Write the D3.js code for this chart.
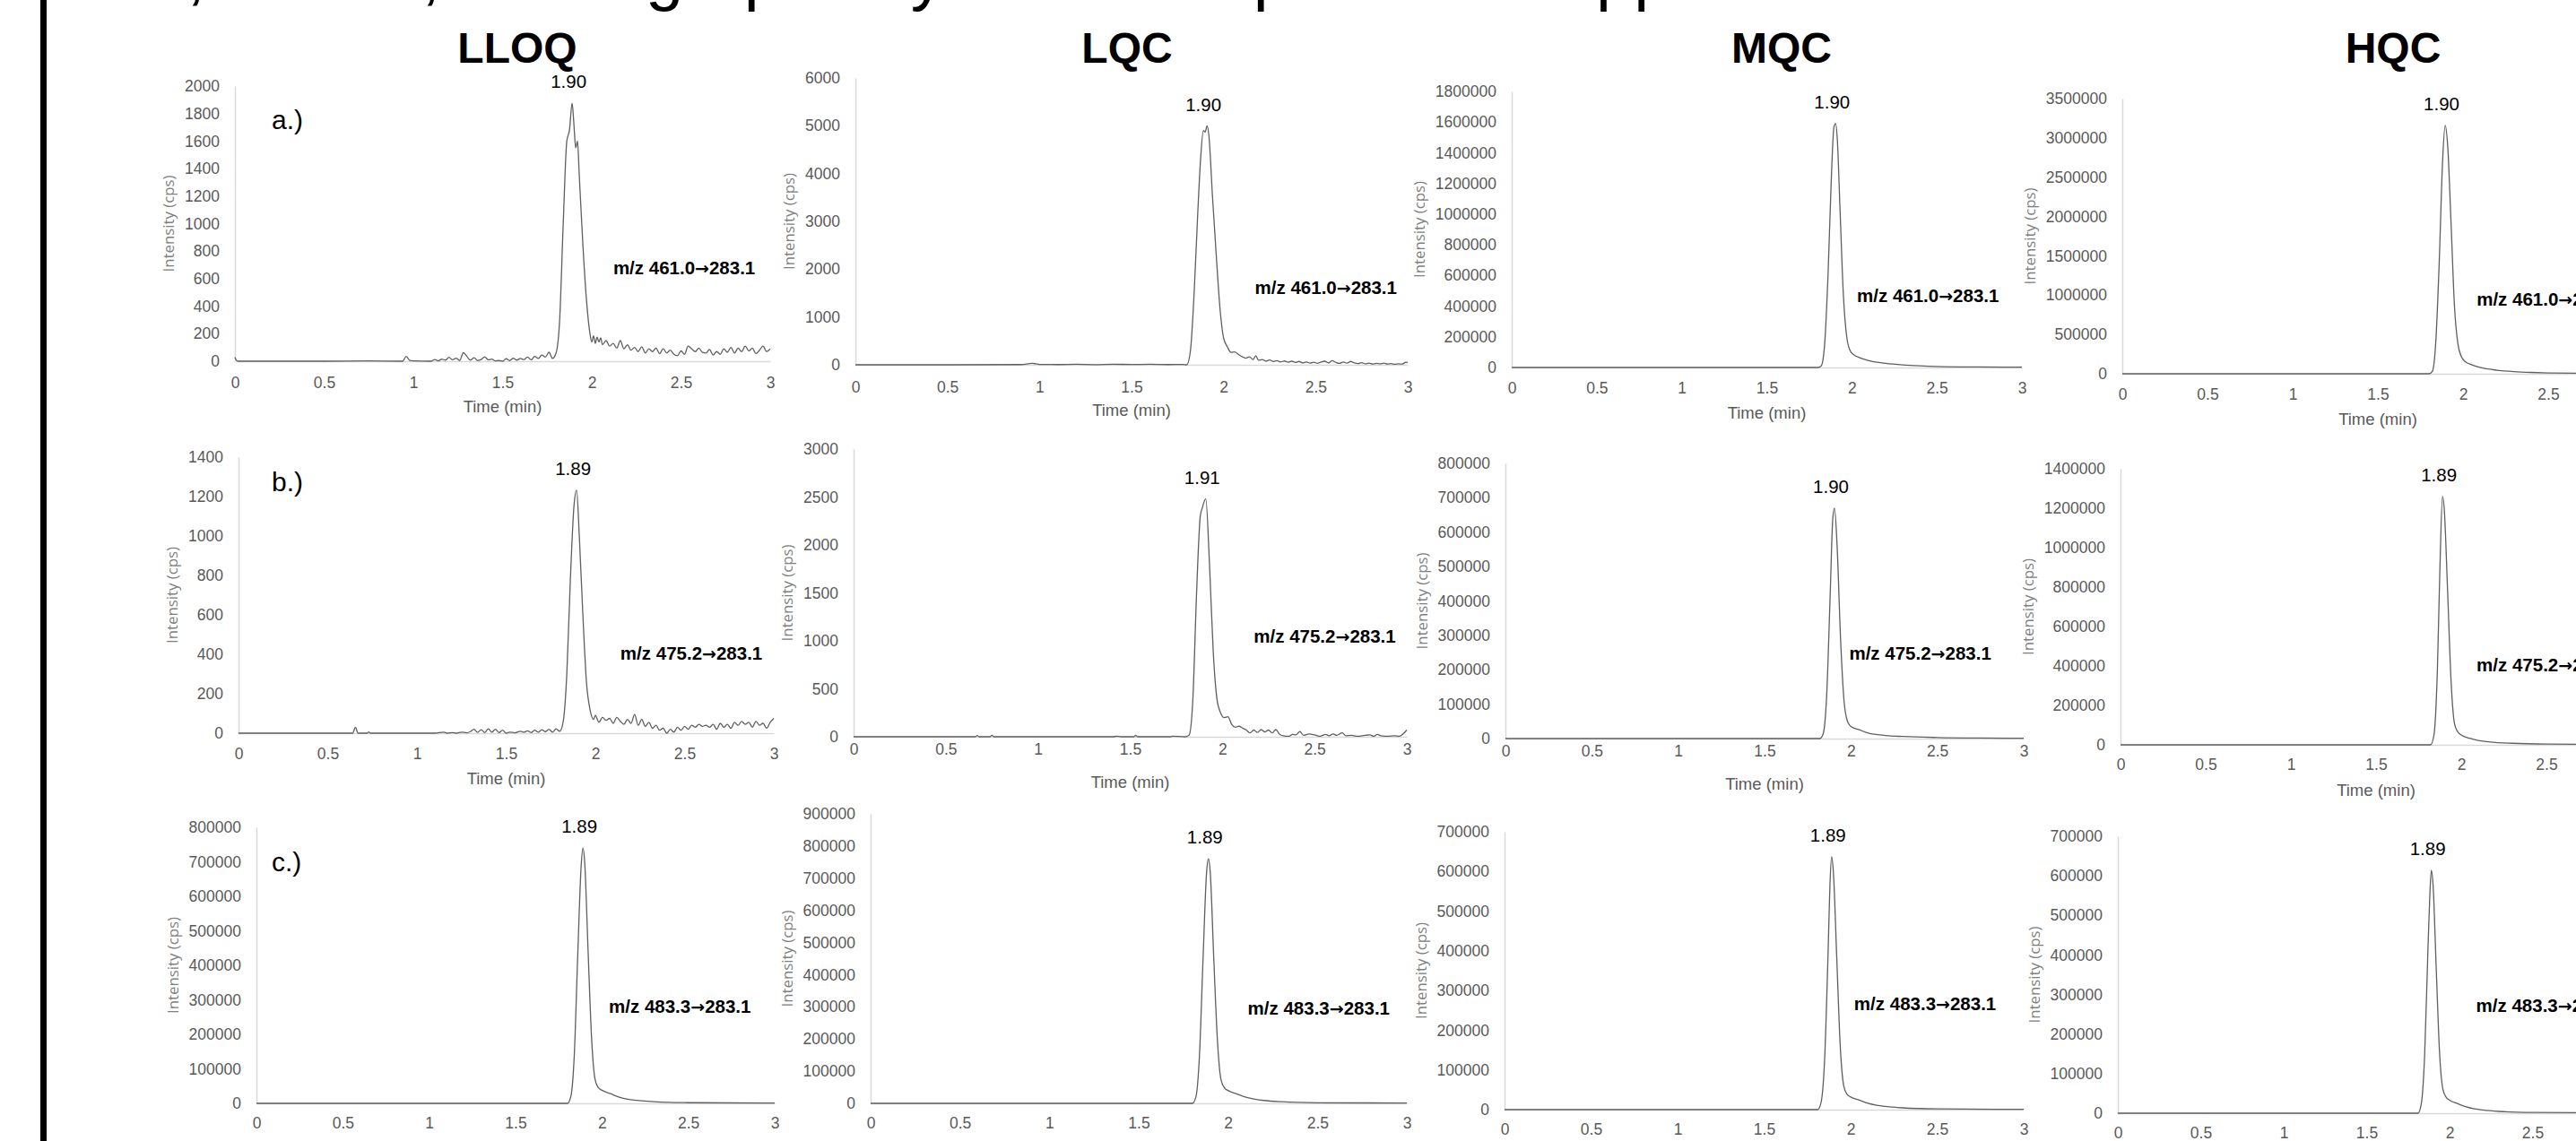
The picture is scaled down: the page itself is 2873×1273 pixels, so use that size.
<!doctype html>
<html>
<head>
<meta charset="utf-8">
<script src="https://cdnjs.cloudflare.com/ajax/libs/d3/7.8.5/d3.min.js"></script>
<style>
  body { margin: 0; background: #fff; }
  svg { display: block; }
</style>
</head>
<body>
<svg width="2873" height="1273"></svg>
<script>
// ---- data ----
var columns = ["LLOQ", "LQC", "MQC", "HQC"];
var rowTags = ["a.)", "b.)", "c.)"];
var precursors = ["m/z 461.0", "m/z 475.2", "m/z 483.3"];
var product = "283.1";
var peakLabels = [["1.90", "1.90", "1.90", "1.90"], ["1.89", "1.91", "1.90", "1.89"], ["1.89", "1.89", "1.89", "1.89"]];
var yMax = [[2000, 6000, 1800000, 3500000], [1400, 3000, 800000, 1400000], [800000, 900000, 700000, 700000]];
var yStep = [[200, 1000, 200000, 500000], [200, 500, 100000, 200000], [100000, 100000, 100000, 100000]];
var timeTicks = [0, 0.5, 1, 1.5, 2, 2.5, 3];

// chromatograms: [time (min), intensity (cps)]
var a1 = [[0,30],[0.01,5],[0.02,0],[0.5,0],[0.75,2],[0.94,0],[0.96,35],[0.98,5],[1.0,2],[1.1,0],[1.12,12],[1.14,3],[1.16,15],[1.18,8],[1.2,28],[1.22,10],[1.24,22],[1.26,5],[1.28,62],[1.3,35],[1.32,8],[1.34,25],[1.36,5],[1.38,12],[1.4,32],[1.42,10],[1.44,15],[1.46,2],[1.48,5],[1.5,0],[1.52,18],[1.54,5],[1.56,22],[1.58,8],[1.6,20],[1.62,12],[1.64,30],[1.66,10],[1.68,35],[1.7,20],[1.72,45],[1.74,30],[1.76,65],[1.78,20],[1.8,60],[1.82,300],[1.84,1000],[1.86,1600],[1.875,1680],[1.89,1876],[1.9,1720],[1.91,1550],[1.92,1600],[1.93,1350],[1.95,850],[1.97,450],[1.99,200],[2.0,140],[2.01,185],[2.02,130],[2.03,175],[2.04,140],[2.05,170],[2.06,120],[2.08,150],[2.1,110],[2.12,130],[2.14,95],[2.16,150],[2.18,90],[2.2,120],[2.22,80],[2.24,100],[2.26,70],[2.28,105],[2.3,60],[2.32,90],[2.34,70],[2.36,95],[2.38,55],[2.4,90],[2.42,60],[2.44,80],[2.46,50],[2.48,40],[2.5,75],[2.52,50],[2.54,110],[2.56,90],[2.58,70],[2.6,95],[2.62,65],[2.64,60],[2.66,85],[2.68,45],[2.7,70],[2.72,50],[2.74,90],[2.76,65],[2.78,100],[2.8,60],[2.82,95],[2.84,70],[2.86,110],[2.88,75],[2.9,95],[2.92,55],[2.94,80],[2.96,110],[2.98,70],[3.0,90]];
var a2 = [[0,0],[0.5,0],[0.9,5],[0.96,30],[0.98,22],[1.0,8],[1.1,5],[1.2,10],[1.3,4],[1.4,12],[1.5,6],[1.6,10],[1.7,5],[1.78,8],[1.8,0],[1.82,300],[1.84,1500],[1.86,3200],[1.875,4300],[1.89,4900],[1.9,4870],[1.91,5000],[1.92,4800],[1.94,3500],[1.96,2300],[1.98,1200],[2.0,560],[2.02,380],[2.04,260],[2.06,270],[2.08,220],[2.1,170],[2.12,140],[2.14,165],[2.16,110],[2.175,190],[2.19,95],[2.21,110],[2.23,75],[2.25,100],[2.27,70],[2.29,85],[2.31,60],[2.33,80],[2.35,55],[2.37,75],[2.39,50],[2.41,70],[2.43,40],[2.45,60],[2.47,35],[2.49,55],[2.51,30],[2.53,60],[2.55,75],[2.57,40],[2.59,85],[2.61,50],[2.63,30],[2.65,60],[2.67,35],[2.69,70],[2.71,40],[2.73,25],[2.75,45],[2.77,20],[2.79,35],[2.81,15],[2.83,30],[2.85,20],[2.87,35],[2.89,15],[2.91,25],[2.93,10],[2.95,20],[2.97,15],[2.99,55],[3.0,50]];
var a3 = [[0,0],[1.0,0],[1.5,0],[1.8,0],[1.82,10000],[1.84,150000],[1.86,600000],[1.88,1250000],[1.895,1570000],[1.905,1590000],[1.915,1480000],[1.93,1050000],[1.95,480000],[1.97,200000],[1.99,110000],[2.01,85000],[2.05,62000],[2.1,45000],[2.2,27000],[2.3,17000],[2.4,11000],[2.5,7000],[2.75,3500],[3.0,2000]];
var a4 = [[0,0],[1.8,0],[1.82,30000],[1.84,400000],[1.86,1400000],[1.88,2700000],[1.895,3160000],[1.91,2900000],[1.93,1900000],[1.95,850000],[1.97,380000],[1.99,220000],[2.01,160000],[2.05,115000],[2.1,80000],[2.2,45000],[2.3,27000],[2.4,17000],[2.5,11000],[2.75,6000],[3.0,4000]];
var b1 = [[0,0],[0.64,0],[0.655,30],[0.67,0],[0.72,0],[0.73,6],[0.74,0],[1.1,0],[1.15,5],[1.17,0],[1.2,3],[1.22,0],[1.25,5],[1.28,2],[1.3,8],[1.32,20],[1.34,4],[1.36,18],[1.38,3],[1.4,22],[1.42,5],[1.44,20],[1.46,3],[1.48,15],[1.5,0],[1.52,5],[1.55,2],[1.58,10],[1.6,5],[1.62,12],[1.64,3],[1.66,15],[1.68,5],[1.7,18],[1.72,8],[1.74,20],[1.76,5],[1.78,22],[1.8,10],[1.82,60],[1.84,300],[1.86,780],[1.88,1150],[1.895,1232],[1.91,1000],[1.93,600],[1.95,260],[1.97,120],[1.99,70],[2.0,90],[2.02,55],[2.04,80],[2.06,65],[2.08,75],[2.1,50],[2.12,80],[2.14,60],[2.16,45],[2.18,70],[2.2,50],[2.22,95],[2.24,40],[2.26,70],[2.28,35],[2.3,55],[2.32,25],[2.34,40],[2.36,15],[2.38,25],[2.4,0],[2.42,20],[2.44,5],[2.46,30],[2.48,15],[2.5,35],[2.52,20],[2.54,40],[2.56,30],[2.58,45],[2.6,35],[2.62,40],[2.64,30],[2.66,45],[2.68,20],[2.7,50],[2.72,30],[2.74,45],[2.76,25],[2.78,55],[2.8,40],[2.82,60],[2.84,45],[2.86,55],[2.88,30],[2.9,60],[2.92,40],[2.94,50],[2.96,25],[2.98,55],[3.0,75]];
var b2 = [[0,0],[0.6,0],[0.66,0],[0.67,12],[0.68,0],[0.74,0],[0.75,15],[0.76,0],[1.4,0],[1.43,5],[1.45,0],[1.52,0],[1.53,15],[1.54,0],[1.72,0],[1.73,6],[1.8,0],[1.82,20],[1.84,400],[1.86,1500],[1.88,2300],[1.89,2380],[1.91,2480],[1.93,1800],[1.95,900],[1.97,400],[1.99,250],[2.01,200],[2.03,210],[2.05,130],[2.07,100],[2.09,110],[2.11,90],[2.13,70],[2.15,40],[2.17,70],[2.19,45],[2.21,75],[2.23,50],[2.25,70],[2.27,40],[2.29,75],[2.31,25],[2.33,10],[2.36,5],[2.38,25],[2.4,20],[2.42,55],[2.44,15],[2.47,30],[2.5,20],[2.53,5],[2.56,25],[2.58,10],[2.6,30],[2.62,15],[2.65,40],[2.67,10],[2.7,15],[2.73,5],[2.76,10],[2.8,20],[2.82,5],[2.84,25],[2.86,10],[2.9,5],[2.93,10],[2.96,5],[2.98,30],[3.0,70]];
var b3 = [[0,0],[1.82,0],[1.84,15000],[1.86,130000],[1.88,420000],[1.895,640000],[1.905,670000],[1.92,560000],[1.94,290000],[1.96,110000],[1.98,50000],[2.0,35000],[2.05,25000],[2.1,16000],[2.2,9000],[2.3,6000],[2.5,3000],[2.75,1500],[3.0,1000]];
var b4 = [[0,0],[1.82,0],[1.84,50000],[1.86,380000],[1.875,900000],[1.89,1260000],[1.9,1200000],[1.92,780000],[1.94,330000],[1.96,110000],[1.98,65000],[2.0,50000],[2.05,33000],[2.1,22000],[2.2,12000],[2.3,8000],[2.5,4000],[2.75,2500],[3.0,2000]];
var c1 = [[0,0],[1.8,0],[1.82,20000],[1.84,140000],[1.86,430000],[1.88,690000],[1.89,740000],[1.9,700000],[1.92,440000],[1.94,190000],[1.96,70000],[1.98,45000],[2.0,38000],[2.05,28000],[2.1,18000],[2.15,12000],[2.2,9000],[2.3,5000],[2.5,2000],[3.0,1000]];
var c2 = [[0,0],[1.8,0],[1.82,20000],[1.84,150000],[1.86,450000],[1.88,720000],[1.89,761000],[1.9,720000],[1.92,450000],[1.94,200000],[1.96,75000],[1.98,48000],[2.0,40000],[2.05,29000],[2.1,19000],[2.15,13000],[2.2,9000],[2.3,5000],[2.5,2000],[3.0,1000]];
var c3 = [[0,0],[1.81,0],[1.83,20000],[1.85,130000],[1.87,400000],[1.88,560000],[1.89,637000],[1.9,600000],[1.92,380000],[1.94,160000],[1.96,60000],[1.98,38000],[2.0,32000],[2.05,24000],[2.1,16000],[2.15,11000],[2.2,8000],[2.3,4500],[2.5,2000],[3.0,800]];
var c4 = [[0,0],[1.81,0],[1.83,25000],[1.85,150000],[1.87,420000],[1.88,540000],[1.89,614000],[1.9,580000],[1.92,360000],[1.94,150000],[1.96,60000],[1.98,40000],[2.0,33000],[2.05,24000],[2.1,16000],[2.15,11000],[2.2,8000],[2.3,4500],[2.5,2000],[3.0,800]];
var series = [[a1, a2, a3, a4], [b1, b2, b3, b4], [c1, c2, c3, c4]];

// ---- layout (pixels): x at t=0, x at t=3, y top, y bottom, m/z label time, m/z label height fraction, x label pad ----
var frames = [
  [[262, 859, 96, 403, 2.12, 0.66, 18], [954, 1570, 87, 407, 2.17, 0.73, 19], [1686, 2255, 102, 410, 2.03, 0.74, 17], [2367, 2937, 110, 417, 2.08, 0.73, 17]],
  [[266, 863, 510, 818, 2.14, 0.71, 17], [952, 1569, 501, 822, 2.17, 0.65, 8], [1679, 2257, 517, 824, 1.99, 0.69, 8], [2365, 2935, 523, 831, 2.09, 0.71, 16]],
  [[286, 864, 923, 1231, 2.04, 0.65, 16], [971, 1569, 908, 1231, 2.11, 0.67, 16], [1678, 2257, 928, 1238, 2.02, 0.62, 16], [2362, 2917, 933, 1242, 2.16, 0.61, 16]]
];
var headerX = [577, 1257, 1987, 2669];
var tagBaseline = [144, 548, 972];

var sans = "'Liberation Sans', Arial, sans-serif";
var svg = d3.select("svg");

// left border bar
svg.append("rect").attr("x", 45).attr("y", 0).attr("width", 7).attr("height", 1273).attr("fill", "#000");

// caption line cut off at the top edge (only descenders show): text, char index to align, x of that char
var titleChunks = [["A-1,", 3, 208], ["A-2,", 3, 470], ["IS graphs by", 3, 720], ["each sample", 9, 1440], ["as applied", 4, 1780]];
titleChunks.forEach(function(c) {
  var t = svg.append("text")
    .attr("y", -3)
    .attr("font-family", sans)
    .attr("font-size", 76)
    .attr("fill", "#000")
    .text(c[0]);
  var off = t.node().getSubStringLength(0, c[1]);
  t.attr("x", c[2] - off);
});

// column headers
svg.selectAll(".hdr").data(columns).enter().append("text")
  .attr("class", "hdr")
  .attr("x", (d, i) => headerX[i])
  .attr("y", 70)
  .attr("text-anchor", "middle")
  .attr("font-family", sans)
  .attr("font-weight", "bold")
  .attr("font-size", 48)
  .attr("fill", "#000")
  .text(d => d);

series.forEach(function(row, r) {
  row.forEach(function(data, c) {
    var f = frames[r][c];
    var x = d3.scaleLinear().domain([0, 3]).range([f[0], f[1]]);
    var y = d3.scaleLinear().domain([0, yMax[r][c]]).range([f[3], f[2]]);
    var g = svg.append("g");

    var yAxis = g.append("g")
      .attr("transform", "translate(" + f[0] + ",0)")
      .call(d3.axisLeft(y)
        .tickValues(d3.range(0, yMax[r][c] + 1, yStep[r][c]))
        .tickSize(0).tickSizeOuter(0).tickPadding(17)
        .tickFormat(d3.format("d")));
    var xAxis = g.append("g")
      .attr("transform", "translate(0," + f[3] + ")")
      .call(d3.axisBottom(x)
        .tickValues(timeTicks)
        .tickSize(0).tickSizeOuter(0).tickPadding(f[6])
        .tickFormat(d => String(d)));

    [yAxis, xAxis].forEach(function(a) {
      a.select(".domain").attr("stroke", "#d9d9d9").attr("stroke-width", 1.5);
      a.selectAll("text")
        .attr("font-family", sans)
        .attr("font-size", 17.5)
        .attr("fill", "#595959");
    });

    // axis titles
    var left = yAxis.node().getBBox().x + f[0];
    var midY = (f[2] + f[3]) / 2;
    g.append("text")
      .attr("transform", "translate(" + (left - 12) + "," + midY + ") rotate(-90)")
      .attr("text-anchor", "middle")
      .attr("font-family", "'Open Sans', sans-serif")
      .attr("font-size", 17)
      .attr("textLength", 108)
      .attr("lengthAdjust", "spacingAndGlyphs")
      .attr("fill", "#7f7f7f")
      .text("Intensity (cps)");
    g.append("text")
      .attr("x", (f[0] + f[1]) / 2)
      .attr("y", f[3] + 51)
      .attr("dy", "0.35em")
      .attr("text-anchor", "middle")
      .attr("font-family", sans)
      .attr("font-size", 18.5)
      .attr("fill", "#595959")
      .text("Time (min)");

    // trace
    g.append("path")
      .datum(data)
      .attr("fill", "none")
      .attr("stroke", "#5f5f5f")
      .attr("stroke-width", 1.3)
      .attr("stroke-linejoin", "round")
      .attr("d", d3.line().x(d => x(d[0])).y(d => y(d[1])).curve(d3.curveMonotoneX));

    // retention time label above the apex
    var top = data.reduce((m, d) => d[1] > m[1] ? d : m, data[0]);
    g.append("text")
      .attr("x", x(top[0]) - 4)
      .attr("y", y(top[1]) - 24)
      .attr("dy", "0.35em")
      .attr("text-anchor", "middle")
      .attr("font-family", sans)
      .attr("font-size", 20.5)
      .attr("fill", "#000")
      .text(peakLabels[r][c]);

    // transition label
    var mz = g.append("text")
      .attr("x", x(f[4]))
      .attr("y", f[2] + f[5] * (f[3] - f[2]))
      .attr("dy", "0.35em")
      .attr("font-family", sans)
      .attr("font-weight", "bold")
      .attr("font-size", 20.5)
      .attr("fill", "#000");
    mz.append("tspan").text(precursors[r]);
    mz.append("tspan").attr("font-family", "'DejaVu Sans', sans-serif").attr("font-size", 19).text("\u2192");
    mz.append("tspan").text(product);

    if (c === 0) {
      g.append("text")
        .attr("x", 303)
        .attr("y", tagBaseline[r])
        .attr("font-family", sans)
        .attr("font-size", 30)
        .attr("fill", "#000")
        .text(rowTags[r]);
    }
  });
});
</script>
</body>
</html>
